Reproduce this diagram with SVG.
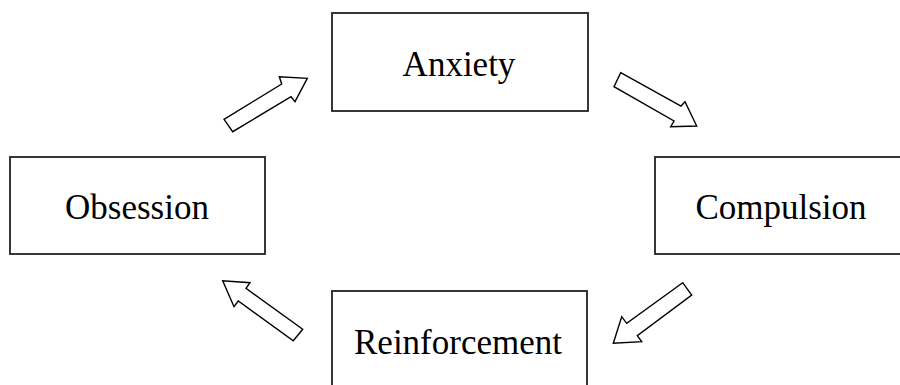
<svg xmlns="http://www.w3.org/2000/svg" width="900" height="385" viewBox="0 0 900 385">
<style>
.box{fill:#fff;stroke:#222;stroke-width:1.8}
.lbl{font-family:"Liberation Serif","Times New Roman",serif;font-size:35px;fill:#000;text-anchor:middle}
.arr{fill:#fff;stroke:#000;stroke-width:1.4;stroke-linejoin:miter}
</style>
<rect width="900" height="385" fill="#fff"/>
<g id="anxiety"><rect class="box" x="332" y="13" width="256" height="98"/><text class="lbl" x="459" y="76">Anxiety</text></g>
<g id="obsession"><rect class="box" x="10" y="157" width="255" height="97"/><text class="lbl" x="137" y="219">Obsession</text></g>
<g id="compulsion"><rect class="box" x="655" y="157" width="260" height="97"/><text class="lbl" x="781" y="219">Compulsion</text></g>
<g id="reinforcement"><rect class="box" x="332" y="291" width="255" height="110"/><text class="lbl" x="458" y="354">Reinforcement</text></g>
<g id="connectors">
<polygon class="arr" points="224,119.3 281.7,84 279.3,76.7 307.3,78.3 295,101.7 291,96.7 232.7,131.7"/>
<polygon class="arr" points="620.7,72.7 681,106 685,101.7 696.7,126 670.7,126.7 674,121 614,86.7"/>
<polygon class="arr" points="682.7,282.7 626.7,323.3 621.7,316.7 613.3,343.3 641.7,341.7 637.3,335.7 691.7,295"/>
<polygon class="arr" points="302.7,329.3 246,288.3 250,282.7 222.7,280.7 234,306.7 238.3,301 293.3,340.7"/>
</g>
</svg>
